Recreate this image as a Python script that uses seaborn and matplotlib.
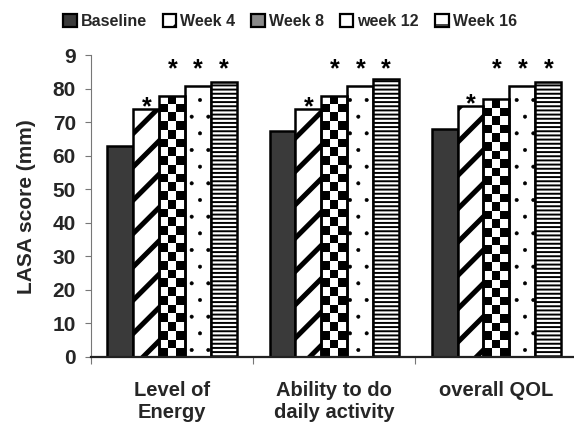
import numpy as np
import pandas as pd
import seaborn as sns
import matplotlib.pyplot as plt
from matplotlib.patches import Patch

# LASA scores by domain and visit
categories = ["Level of\nEnergy", "Ability to do\ndaily activity", "overall QOL"]
visits = ["Baseline", "Week 4", "Week 8", "week 12", "Week 16"]
baseline = [63, 67.5, 68]
week4 = [74, 74, 75]
week8 = [78, 78, 77]
week12 = [81, 81, 81]
week16 = [82, 83, 82]
significant = [False, True, True, True, True]

y_ticks = [0, 10, 20, 30, 40, 50, 60, 70, 80, 90]
y_tick_labels = ["0", "10", "20", "30", "40", "50", "60", "70", "80", "9"]

df = pd.DataFrame({
    "domain": categories * len(visits),
    "visit": np.repeat(visits, len(categories)),
    "score": baseline + week4 + week8 + week12 + week16,
})

sns.set_style("ticks")
plt.rcParams["font.family"] = ["Liberation Sans", "DejaVu Sans"]
plt.rcParams["font.weight"] = "bold"

fills = ["#3a3a3a", "white", "white", "white", "white"]
hatches = ["", "/", "", ".", "----"]
hatch_lw = [1.0, 3.6, 1.0, 0.4, 1.4]


def use_hatch_lw(artist, lw):
    # hatch linewidth is global in matplotlib, so set it while this bar draws
    if hasattr(artist, "set_hatch_linewidth"):
        artist.set_hatch_linewidth(lw)
    orig = artist.draw

    def draw(renderer):
        with plt.rc_context({"hatch.linewidth": lw}):
            orig(renderer)
    artist.draw = draw


fig = plt.figure(figsize=(5.74, 4.30), dpi=100)
ax = fig.add_axes([0.159, 0.170, 0.847, 0.701])

sns.barplot(data=df, x="domain", y="score", hue="visit", order=categories,
            hue_order=visits, palette=dict(zip(visits, fills)), saturation=1,
            edgecolor="black", linewidth=1.8, width=0.8, legend=False, ax=ax)

for cont, h, lw in zip(ax.containers, hatches, hatch_lw):
    for bar in cont:
        bar.set_hatch(h)
        use_hatch_lw(bar, lw)

ax.set_xlim(-0.5, 2.5)
ax.set_ylim(0, 90)

# checkerboard texture for week 8
for bar in ax.containers[2]:
    x0, y0 = bar.get_x(), bar.get_y()
    w, h = bar.get_width(), bar.get_height()
    nx, ny = 3, int(round(h / 2.6))
    board = (np.indices((ny, nx)).sum(axis=0) % 2).astype(float)
    im = ax.imshow(board, cmap="gray", vmin=0, vmax=1, aspect="auto",
                   extent=(x0, x0 + w, y0, y0 + h), origin="lower",
                   interpolation="nearest", zorder=0.9)
    im.set_clip_path(bar)
    bar.set_facecolor("none")
    bar.set_zorder(1.5)

ax.set_xlim(-0.5, 2.5)
ax.set_ylim(0, 90)

# significance stars
for cont, sig, i in zip(ax.containers, significant, range(len(visits))):
    if not sig:
        continue
    for bar in cont:
        xc = bar.get_x() + bar.get_width() / 2
        yb = bar.get_height() - 1.7 if i == 1 else 83.8
        ax.text(xc, yb, "*", ha="center", va="baseline", fontsize=18,
                fontweight="bold", color="black")

ax.set_yticks(y_ticks)
ax.set_yticklabels(y_tick_labels)
ax.tick_params(axis="y", direction="out", length=4, width=0.8, color="#777777",
               labelsize=15, pad=7)
ax.tick_params(axis="x", which="major", length=0, labelsize=14.5, pad=17)
ax.set_xticks([-0.5, 0.5, 1.5, 2.5], minor=True)
ax.tick_params(axis="x", which="minor", direction="out", length=5, width=0.8,
               color="#777777")
for lab in ax.get_xticklabels() + ax.get_yticklabels():
    lab.set_fontweight("bold")

ax.set_xlabel("")
ax.set_ylabel("LASA score (mm)", fontsize=15, fontweight="bold", labelpad=12)

sns.despine(ax=ax)
ax.spines["left"].set_color("#777777")
ax.spines["left"].set_linewidth(0.8)
ax.spines["bottom"].set_color("#222222")
ax.spines["bottom"].set_linewidth(1.6)

legend_fills = ["#3a3a3a", "white", "#8a8a8a", "white", "white"]
legend_hatches = ["", "/", "", "", "-"]
handles = [Patch(facecolor=f, edgecolor="black", hatch=h, linewidth=1.6)
           for f, h in zip(legend_fills, legend_hatches)]
fig.legend(handles, visits, loc="upper center", bbox_to_anchor=(0.505, 1.0),
           ncol=5, frameon=False, handlelength=0.85, handleheight=0.85,
           handletextpad=0.25, columnspacing=1.0,
           prop={"weight": "bold", "size": 11.5})

fig.savefig("out.png", dpi=100)
